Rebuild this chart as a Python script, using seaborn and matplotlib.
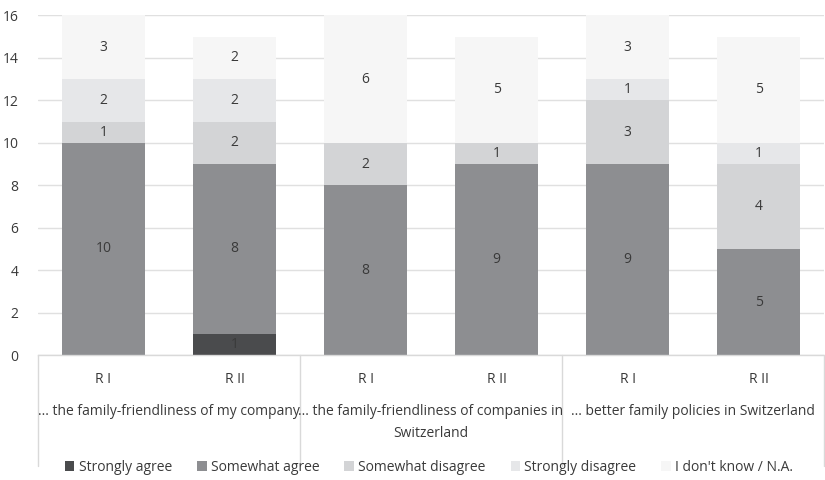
import matplotlib.pyplot as plt
import matplotlib.transforms as mtransforms
import numpy as np
import pandas as pd
import seaborn as sns

# Data
rounds = ["R I", "R II", "R I", "R II", "R I", "R II"]
groups = [
    "... the family-friendliness of my company",
    "... the family-friendliness of companies in\nSwitzerland",
    "... better family policies in Switzerland",
]
categories = [
    "Strongly agree",
    "Somewhat agree",
    "Somewhat disagree",
    "Strongly disagree",
    "I don't know / N.A.",
]
strongly_agree = [0, 1, 0, 0, 0, 0]
somewhat_agree = [10, 8, 8, 9, 9, 5]
somewhat_disagree = [1, 2, 2, 1, 3, 4]
strongly_disagree = [2, 2, 0, 0, 1, 1]
dont_know = [3, 2, 6, 5, 3, 5]

COLORS = ["#4a4b4d", "#8d8e91", "#d3d4d6", "#e6e7e9", "#f6f6f6"]
TEXT_COLOR = "#3a3a3a"

sns.set_theme(style="white")
plt.rcParams["font.family"] = ["Open Sans", "DejaVu Sans"]

bar_ids = [f"b{i}" for i in range(len(rounds))]
layers = [strongly_agree, somewhat_agree, somewhat_disagree, strongly_disagree, dont_know]

fig = plt.figure(figsize=(8.25, 4.8), dpi=100)
ax = fig.add_axes([0.046, 0.26, 0.953, 0.708])

bottom = np.zeros(len(rounds))
for name, values, color in zip(categories, layers, COLORS):
    df = pd.DataFrame({"bar": bar_ids, "value": values})
    sns.barplot(
        data=df,
        x="bar",
        y="value",
        color=color,
        saturation=1,
        width=0.63,
        bottom=bottom,
        linewidth=0,
        label=name,
        ax=ax,
        errorbar=None,
    )
    container = ax.containers[-1]
    ax.bar_label(
        container,
        labels=[str(v) if v > 0 else "" for v in values],
        label_type="center",
        color=TEXT_COLOR,
        fontsize=10,
    )
    bottom = bottom + np.array(values)

handles, labels = ax.get_legend_handles_labels()
if ax.get_legend() is not None:
    ax.get_legend().remove()

ax.set_xlim(-0.5, 5.5)
ax.set_ylim(0, 16)
ax.set_yticks(range(0, 17, 2))
ax.yaxis.grid(True, color="#e0e0e0", linewidth=1)
ax.set_axisbelow(True)
ax.set_xlabel("")
ax.set_ylabel("")
ax.set_xticks(range(len(rounds)))
ax.set_xticklabels(rounds)
ax.tick_params(axis="both", length=0, labelsize=10, colors=TEXT_COLOR)
ax.tick_params(axis="x", pad=12)
ax.tick_params(axis="y", pad=14)
for side in ["top", "right", "left"]:
    ax.spines[side].set_visible(False)
ax.spines["bottom"].set_color("#d9d9d9")
ax.spines["bottom"].set_linewidth(1)

trans = mtransforms.blended_transform_factory(ax.transData, ax.transAxes)
for i, g in enumerate(groups):
    ax.text(
        2 * i + 0.5,
        -0.145,
        g,
        transform=trans,
        ha="center",
        va="top",
        fontsize=10,
        color=TEXT_COLOR,
        linespacing=1.55,
    )
for xs in [-0.5, 1.5, 3.5, 5.5]:
    ax.plot([xs, xs], [0, -0.325], transform=trans, color="#d9d9d9",
            linewidth=1, clip_on=False)

fig.legend(
    handles,
    labels,
    loc="center",
    bbox_to_anchor=(0.52, 0.027),
    ncol=5,
    frameon=False,
    fontsize=10,
    handlelength=0.7,
    handleheight=0.7,
    handletextpad=0.3,
    columnspacing=1.8,
    labelcolor=TEXT_COLOR,
)

fig.savefig("out.png", dpi=100)
